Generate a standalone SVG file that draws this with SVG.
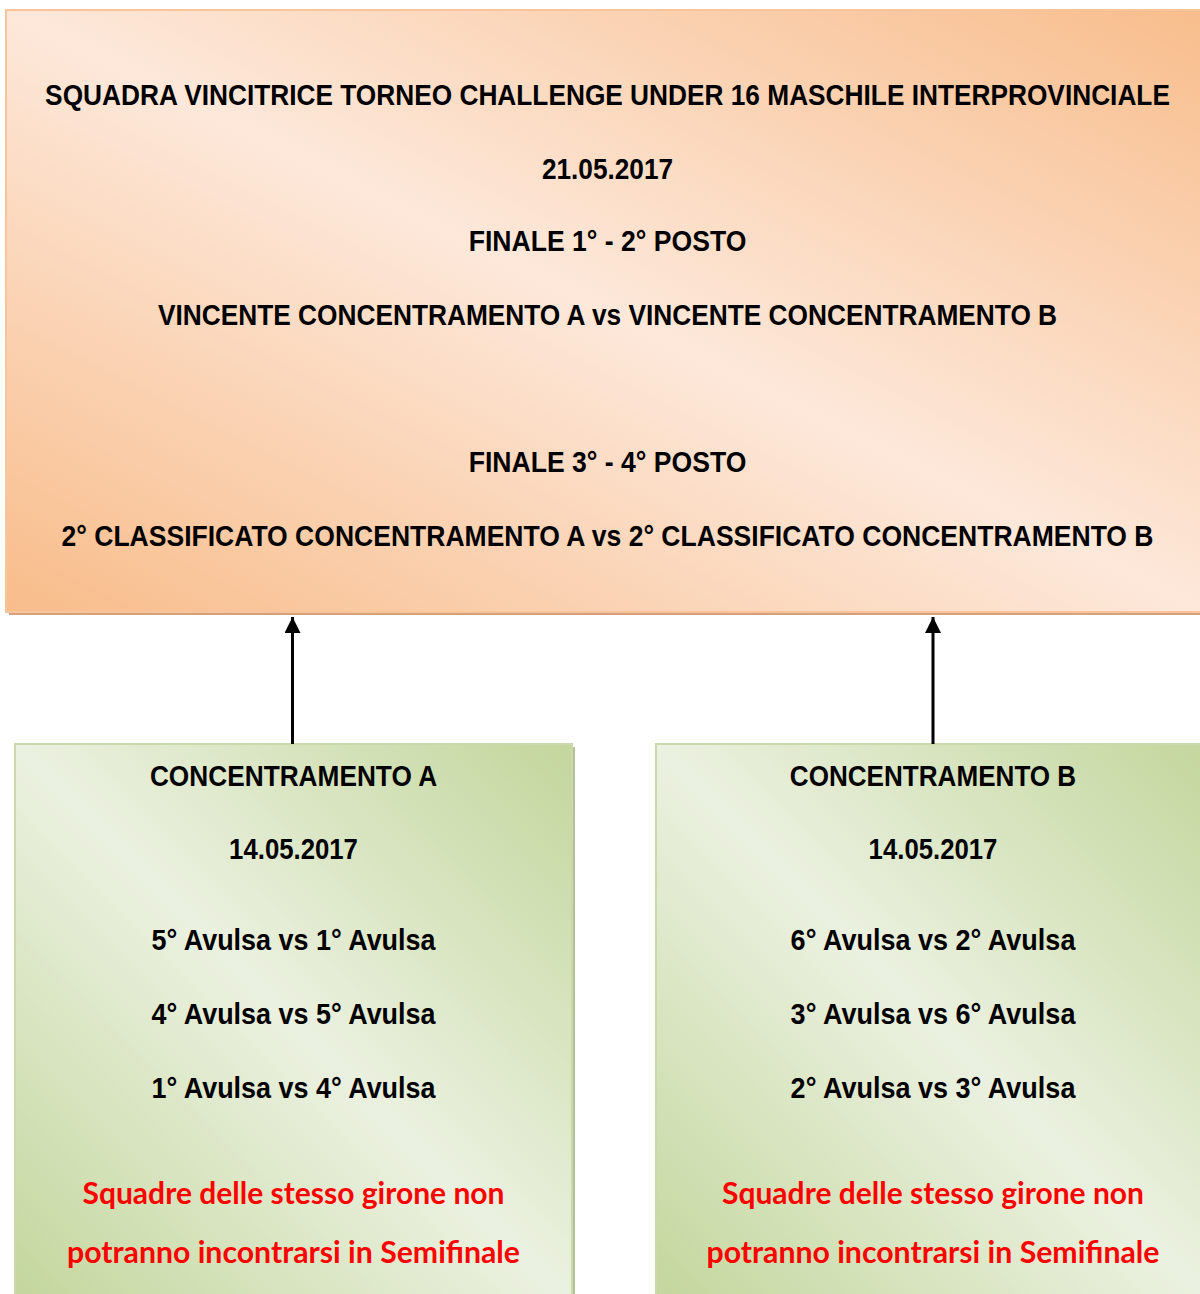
<svg xmlns="http://www.w3.org/2000/svg" width="1200" height="1294" viewBox="0 0 1200 1294">
<defs>
<linearGradient id="gOrange" x1="0" y1="1" x2="1" y2="0">
<stop offset="0" stop-color="#f8bc8a"/>
<stop offset="0.5" stop-color="#fde8da"/>
<stop offset="1" stop-color="#f8bd8c"/>
</linearGradient>
<linearGradient id="gGreen" x1="0" y1="1" x2="1" y2="0">
<stop offset="0" stop-color="#c3d69c"/>
<stop offset="0.5" stop-color="#ebf1e0"/>
<stop offset="1" stop-color="#c3d69c"/>
</linearGradient>
<marker id="arr" viewBox="0 0 16 16" refX="16" refY="8" markerWidth="16" markerHeight="16" markerUnits="userSpaceOnUse" orient="auto">
<path d="M0,0 L16,8 L0,16 z" fill="#000"/>
</marker>
</defs>
<style>
.t{font-family:"Liberation Sans",Arial,sans-serif;font-weight:bold;font-size:30px;fill:#000;text-anchor:middle}
.r{font-family:Lato,"Open Sans",sans-serif;font-weight:bold;font-size:30px;fill:#ff0000;text-anchor:middle}
</style>
<rect width="1200" height="1294" fill="#fff"/>
<g id="final">
<rect x="9" y="13" width="1200" height="602" fill="#d5a07c"/>
<rect x="6" y="10" width="1200" height="602" fill="url(#gOrange)" stroke="#f9c49a" stroke-width="2"/>
<text class="t" transform="translate(607.5,105) scale(0.8,1)" x="0" y="0" textLength="1406" lengthAdjust="spacingAndGlyphs">SQUADRA VINCITRICE TORNEO CHALLENGE UNDER 16 MASCHILE INTERPROVINCIALE</text>
<text class="t" transform="translate(607.5,179) scale(0.8,1)" x="0" y="0" textLength="164" lengthAdjust="spacingAndGlyphs">21.05.2017</text>
<text class="t" transform="translate(607.5,251) scale(0.8,1)" x="0" y="0" textLength="347" lengthAdjust="spacingAndGlyphs">FINALE 1° - 2° POSTO</text>
<text class="t" transform="translate(607.5,325) scale(0.8,1)" x="0" y="0" textLength="1124" lengthAdjust="spacingAndGlyphs">VINCENTE CONCENTRAMENTO A vs VINCENTE CONCENTRAMENTO B</text>
<text class="t" transform="translate(607.5,472) scale(0.8,1)" x="0" y="0" textLength="347" lengthAdjust="spacingAndGlyphs">FINALE 3° - 4° POSTO</text>
<text class="t" transform="translate(607.5,546) scale(0.8,1)" x="0" y="0" textLength="1365" lengthAdjust="spacingAndGlyphs">2° CLASSIFICATO CONCENTRAMENTO A vs 2° CLASSIFICATO CONCENTRAMENTO B</text>
</g>
<g id="concA">
<rect x="18" y="747" width="557" height="560" fill="#b3c196"/>
<rect x="15" y="744" width="557" height="560" fill="url(#gGreen)" stroke="#c9d9ac" stroke-width="2"/>
<text class="t" transform="translate(293.5,786) scale(0.8,1)" x="0" y="0" textLength="359" lengthAdjust="spacingAndGlyphs">CONCENTRAMENTO A</text>
<text class="t" transform="translate(293.5,859) scale(0.8,1)" x="0" y="0" textLength="161" lengthAdjust="spacingAndGlyphs">14.05.2017</text>
<text class="t" transform="translate(293.5,950) scale(0.8,1)" x="0" y="0" textLength="355" lengthAdjust="spacingAndGlyphs">5° Avulsa vs 1° Avulsa</text>
<text class="t" transform="translate(293.5,1024) scale(0.8,1)" x="0" y="0" textLength="355" lengthAdjust="spacingAndGlyphs">4° Avulsa vs 5° Avulsa</text>
<text class="t" transform="translate(293.5,1098) scale(0.8,1)" x="0" y="0" textLength="355" lengthAdjust="spacingAndGlyphs">1° Avulsa vs 4° Avulsa</text>
<text class="r" x="293.5" y="1204" textLength="422" lengthAdjust="spacingAndGlyphs">Squadre delle stesso girone non</text>
<text class="r" x="293.5" y="1263" textLength="453" lengthAdjust="spacingAndGlyphs">potranno incontrarsi in Semifinale</text>
</g>
<g id="concB">
<rect x="659" y="747" width="557" height="560" fill="#b3c196"/>
<rect x="656" y="744" width="557" height="560" fill="url(#gGreen)" stroke="#c9d9ac" stroke-width="2"/>
<text class="t" transform="translate(933,786) scale(0.8,1)" x="0" y="0" textLength="358" lengthAdjust="spacingAndGlyphs">CONCENTRAMENTO B</text>
<text class="t" transform="translate(933,859) scale(0.8,1)" x="0" y="0" textLength="161" lengthAdjust="spacingAndGlyphs">14.05.2017</text>
<text class="t" transform="translate(933,950) scale(0.8,1)" x="0" y="0" textLength="356" lengthAdjust="spacingAndGlyphs">6° Avulsa vs 2° Avulsa</text>
<text class="t" transform="translate(933,1024) scale(0.8,1)" x="0" y="0" textLength="356" lengthAdjust="spacingAndGlyphs">3° Avulsa vs 6° Avulsa</text>
<text class="t" transform="translate(933,1098) scale(0.8,1)" x="0" y="0" textLength="356" lengthAdjust="spacingAndGlyphs">2° Avulsa vs 3° Avulsa</text>
<text class="r" x="933" y="1204" textLength="422" lengthAdjust="spacingAndGlyphs">Squadre delle stesso girone non</text>
<text class="r" x="933" y="1263" textLength="453" lengthAdjust="spacingAndGlyphs">potranno incontrarsi in Semifinale</text>
</g>
<g id="connectors" stroke="#000" stroke-width="3" fill="none">
<line x1="292.5" y1="744" x2="292.5" y2="617" marker-end="url(#arr)"/>
<line x1="933" y1="744" x2="933" y2="617" marker-end="url(#arr)"/>
</g>
</svg>
